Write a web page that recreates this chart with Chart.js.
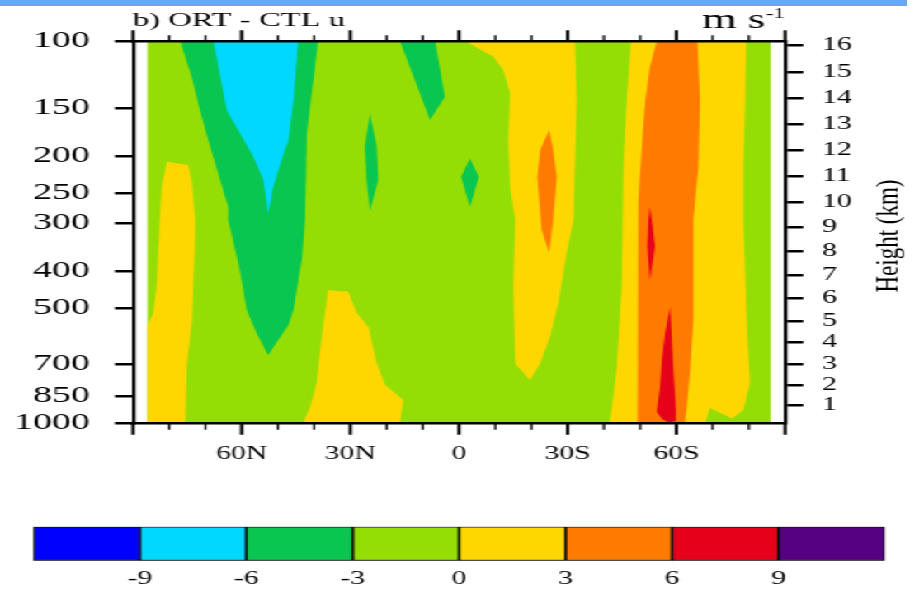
<!DOCTYPE html>
<html>
<head>
<meta charset="utf-8">
<script src="https://cdn.jsdelivr.net/npm/chart.js@4.4.1/dist/chart.umd.min.js"></script>
<style>
  html, body { margin: 0; padding: 0; background: #fff; }
  body { width: 924px; height: 592px; overflow: hidden; position: relative; }
  #topbar { position: absolute; left: 0; top: 0; width: 907px; height: 6px; background: #6ba6ee; z-index: 2; }
  /* the original figure is a horizontally stretched NCL plot */
  #stretch { position: absolute; left: 0; top: 0; width: 560px; height: 592px; transform: scaleX(1.65); transform-origin: 0 0; }
  #main { position: absolute; left: 0; top: 0; }
  #bar { position: absolute; left: 0; top: 500px; }
</style>
</head>
<body>
<div id="topbar"></div>
<div id="stretch">
  <canvas id="main" width="560" height="480"></canvas>
  <canvas id="bar" width="560" height="92"></canvas>
</div>
<script>
// contour levels (m s-1) and their fill colours
const levels = [-9, -6, -3, 0, 3, 6, 9];
const levelColors = ['#0000ff', '#00d8ff', '#08c64f', '#95de05', '#ffd700', '#ff7b00', '#e6001a', '#560082'];

// axis ticks
const pressureTicks = [100, 150, 200, 250, 300, 400, 500, 700, 850, 1000];
const heightTicks = [1, 2, 3, 4, 5, 6, 7, 8, 9, 10, 11, 12, 13, 14, 15, 16];
const latTicks = [-60, -30, 0, 30, 60];
const latTickLabels = ['60N', '30N', '0', '30S', '60S'];

// filled contour regions: [latitude (deg, south positive), pressure (hPa)]
const domain = [[-86, 100], [86, 100], [86, 1000], [-86, 1000]];
const posNH = [[-80.6, 207], [-74.8, 211], [-73.7, 235], [-72.9, 294], [-72.9, 326], [-73.7, 537],
  [-75.1, 697], [-75.6, 1000], [-86, 1000], [-86, 554], [-84.4, 516], [-83.5, 440], [-82.6, 294], [-82.1, 241]];
const negNH = [[-77.0, 100], [-73.8, 124], [-71.5, 152], [-69.2, 182], [-66.5, 222], [-63.7, 272],
  [-63.7, 294], [-60.5, 398], [-58.6, 506], [-55.9, 581], [-52.7, 664], [-47.1, 554], [-45.7, 506],
  [-43.4, 374], [-42.5, 294], [-42.0, 174], [-38.9, 100]];
const negNHcore = [[-67.8, 100], [-64.1, 152], [-60.5, 174], [-56.8, 201], [-54.0, 231], [-52.7, 283],
  [-51.3, 241], [-49.0, 205], [-47.1, 182], [-45.7, 143], [-44.4, 100]];
const negSubtrop = [[-16.3, 100], [-6.6, 100], [-3.9, 140], [-8.0, 161]];
const neg25N = [[-24.6, 155], [-22.7, 189], [-22.3, 231], [-24.6, 279], [-25.5, 231], [-26.0, 189]];
const negEq = [[3.0, 203], [5.5, 227], [3.0, 272], [0.6, 227]];
const pos30N = [[-36.1, 449], [-30.6, 453], [-28.2, 516], [-25.0, 561], [-22.7, 699], [-20.4, 795],
  [-15.4, 871], [-16.3, 1000], [-43.0, 1000], [-41.1, 908], [-39.3, 786], [-37.9, 595]];
const posTrop = [[1.7, 100], [9.5, 110], [12.2, 119], [14.1, 137], [13.6, 182], [14.1, 241], [15.5, 294],
  [15.0, 440], [15.5, 699], [19.6, 772], [22.4, 699], [25.1, 595], [27.4, 486], [29.7, 359],
  [31.6, 294], [32.0, 213], [32.5, 143], [32.0, 100]];
const posTropCore = [[24.9, 171], [26.0, 193], [27.0, 227], [26.0, 294], [24.9, 359], [22.8, 312],
  [21.6, 227], [22.4, 193]];
const posSH = [[47.5, 100], [46.3, 143], [45.4, 213], [45.2, 294], [44.9, 440], [43.5, 727], [42.2, 908],
  [41.7, 1000], [67.9, 1000], [69.3, 914], [75.3, 973], [78.5, 925], [80.3, 786], [79.4, 537],
  [78.5, 294], [78.5, 213], [79.0, 143], [79.2, 100]];
const posSHjet = [[54.6, 100], [52.7, 117], [51.4, 143], [50.4, 193], [49.5, 261], [49.1, 294],
  [49.1, 537], [49.5, 982], [49.5, 1000], [62.4, 1000], [62.9, 908], [63.8, 727], [64.7, 537],
  [64.7, 294], [66.1, 213], [66.5, 143], [65.8, 100]];
const posSHupper = [[52.7, 272], [53.6, 312], [54.1, 346], [52.7, 422], [52.0, 346], [52.3, 294]];
const posSHlower = [[58.3, 496], [56.9, 581], [56.0, 684], [55.5, 804], [54.6, 935], [56.0, 974],
  [57.8, 997], [59.6, 990], [59.9, 925], [59.2, 727], [58.7, 594]];

// painter's order, colour index into levelColors
const regions = [
  [domain, 3], [posNH, 4], [negNH, 2], [negNHcore, 1], [negSubtrop, 2], [neg25N, 2], [negEq, 2],
  [pos30N, 4], [posTrop, 4], [posTropCore, 5], [posSH, 4], [posSHjet, 5], [posSHupper, 6], [posSHlower, 6]
];

// standard atmosphere pressure for a height in km
function stdPressure(km) {
  if (km <= 11) return 1013.25 * Math.pow(1 - 0.0065 * km * 1000 / 288.15, 5.25588);
  return 226.32 * Math.exp(-(km - 11) * 1000 / 6341.62);
}

Chart.defaults.font.family = '"Liberation Serif", "Times New Roman", serif';
Chart.defaults.color = '#000';

const decor = {
  id: 'decor',
  afterDraw(chart) {
    const { ctx, chartArea: a, scales } = chart;
    const x = scales.x;
    ctx.save();
    ctx.strokeStyle = '#000';
    x.ticks.forEach(t => {
      const px = x.getPixelForValue(t.value);
      const major = t.value % 30 === 0;
      ctx.lineWidth = major ? 2 : 1.3;
      ctx.beginPath();
      ctx.moveTo(px, a.bottom);
      ctx.lineTo(px, a.bottom + (major ? 11.7 : 6.7));
      ctx.moveTo(px, a.top);
      ctx.lineTo(px, a.top - (major ? 10.7 : 5.7));
      ctx.stroke();
    });

    ctx.fillStyle = '#000';
    ctx.textBaseline = 'alphabetic';
    ctx.textAlign = 'left';
    ctx.font = '19.8px "Liberation Serif"';
    ctx.fillText('b) ORT - CTL u', a.left, 25.5);

    ctx.textAlign = 'right';
    ctx.font = '14px "Liberation Serif"';
    ctx.fillText('-1', a.right, 18);
    const w = ctx.measureText('-1').width;
    ctx.font = '27px "Liberation Serif"';
    ctx.fillText('m s', a.right - w - 0.5, 28.3);

    ctx.translate(544.2, 236);
    ctx.scale(0.78, 1);
    ctx.rotate(-Math.PI / 2);
    ctx.textAlign = 'center';
    ctx.font = '23px "Liberation Serif"';
    ctx.fillText('Height (km)', 0, 0);
    ctx.restore();
  }
};

const tickGrid = { display: true, drawOnChartArea: false, drawTicks: true, tickLength: 11, color: '#000', lineWidth: 2.5 };

new Chart(document.getElementById('main'), {
  type: 'line',
  data: {
    datasets: regions.map(([pts, c], i) => ({
      data: pts.map(([lat, p]) => ({ x: lat, y: p })),
      backgroundColor: levelColors[c],
      borderWidth: 0,
      pointRadius: 0,
      tension: 0,
      fill: 'shape',
      order: regions.length - i
    }))
  },
  options: {
    responsive: false,
    animation: false,
    events: [],
    layout: { padding: 0 },
    plugins: { legend: { display: false }, tooltip: { enabled: false } },
    scales: {
      x: {
        type: 'linear', position: 'bottom', min: -90, max: 90,
        ticks: {
          stepSize: 10, autoSkip: false, maxRotation: 0, padding: 20.2, font: { size: 18 },
          callback: v => { const i = latTicks.indexOf(v); return i < 0 ? '' : latTickLabels[i]; }
        },
        grid: { display: false, drawTicks: false },
        border: { display: true, color: '#000', width: 2.5, z: 1 },
        afterFit: s => { s.height = 57; }
      },
      x2: {
        type: 'linear', position: 'top', min: -90, max: 90,
        ticks: { display: false },
        grid: { display: false, drawTicks: false },
        border: { display: true, color: '#000', width: 2.5, z: 1 },
        afterFit: s => { s.height = 41; }
      },
      y: {
        type: 'logarithmic', position: 'left', reverse: true, min: 100, max: 1000,
        afterBuildTicks: s => { s.ticks = pressureTicks.map(v => ({ value: v })); },
        ticks: { autoSkip: false, padding: 15, font: { size: 23 }, callback: v => String(v) },
        grid: tickGrid,
        border: { display: true, color: '#000', width: 2.2, z: 1 },
        afterFit: s => { s.width = 80.6; }
      },
      y2: {
        type: 'logarithmic', position: 'right', reverse: true, min: 100, max: 1000,
        afterBuildTicks: s => { s.ticks = heightTicks.map(h => ({ value: stdPressure(h) })); },
        ticks: { autoSkip: false, padding: 11.4, font: { size: 18 }, callback: (v, i) => String(heightTicks[i]) },
        grid: tickGrid,
        border: { display: true, color: '#000', width: 2.2, z: 1 },
        afterFit: s => { s.width = 84.2; }
      }
    }
  },
  plugins: [decor]
});

// colour bar
new Chart(document.getElementById('bar'), {
  type: 'bar',
  data: {
    labels: [''],
    datasets: levelColors.map((c, i) => ({
      data: [[i === 0 ? levels[0] - 3 : levels[i - 1], i === levels.length ? levels[levels.length - 1] + 3 : levels[i]]],
      backgroundColor: c,
      borderColor: '#111',
      borderWidth: 1.2,
      borderSkipped: false,
      grouped: false,
      barPercentage: 1,
      categoryPercentage: 1
    }))
  },
  options: {
    indexAxis: 'y',
    responsive: false,
    animation: false,
    events: [],
    layout: { padding: { left: 20.2, right: 23.6, top: 26.7, bottom: 0 } },
    plugins: { legend: { display: false }, tooltip: { enabled: false } },
    scales: {
      x: {
        type: 'linear', min: levels[0] - 3, max: levels[levels.length - 1] + 3,
        afterBuildTicks: s => { s.ticks = levels.map(v => ({ value: v })); },
        ticks: { autoSkip: false, maxRotation: 0, padding: 7.5, font: { size: 18 }, callback: v => String(v) },
        grid: { display: false, drawTicks: false },
        border: { display: false },
        afterFit: s => { s.height = 31.3; }
      },
      y: { display: false }
    }
  }
});
</script>
</body>
</html>
